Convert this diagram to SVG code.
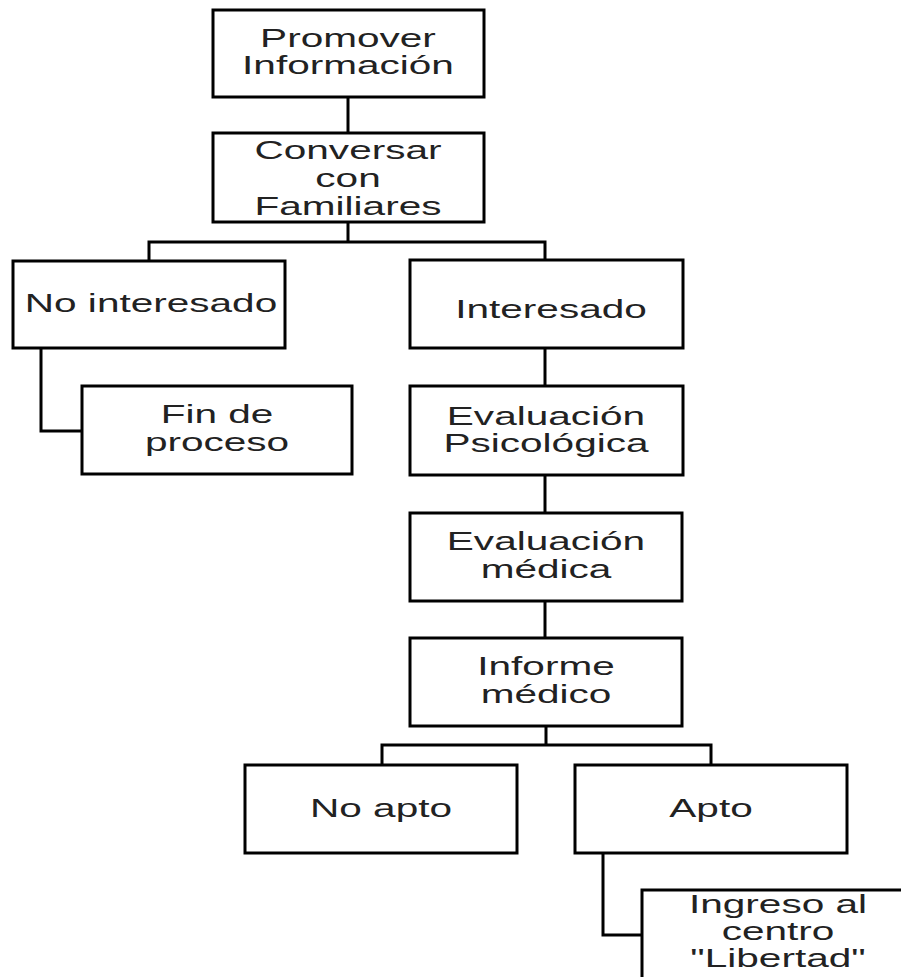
<svg xmlns="http://www.w3.org/2000/svg" width="901" height="977" viewBox="0 0 901 977">
<style>
.box{fill:#fff;stroke:#000;stroke-width:3}
.ln{fill:none;stroke:#000;stroke-width:3}
.t{font-family:"Liberation Sans",Arial,sans-serif;font-size:26.5px;fill:#222;text-anchor:middle}
</style>
<rect width="901" height="977" fill="#fff"/>
<g id="connectors">
<path class="ln" d="M348,97V133"/>
<path class="ln" d="M348,222V242M149,261V242H545V260"/>
<path class="ln" d="M41,348V431H82"/>
<path class="ln" d="M545,348V386"/>
<path class="ln" d="M545,475V513"/>
<path class="ln" d="M545,601V638"/>
<path class="ln" d="M546,726V745M382,765V745H711V765"/>
<path class="ln" d="M603,853V935H642"/>
</g>
<g id="promover">
<rect class="box" x="213" y="10" width="271" height="87"/>
<text class="t" transform="translate(348,47) scale(1.53,1)"><tspan x="0">Promover</tspan><tspan x="0" dy="27">Información</tspan></text>
</g>
<g id="conversar">
<rect class="box" x="213" y="133" width="271" height="89"/>
<text class="t" transform="translate(348,159) scale(1.53,1)"><tspan x="0">Conversar</tspan><tspan x="0" dy="28">con</tspan><tspan x="0" dy="28">Familiares</tspan></text>
</g>
<g id="no-interesado">
<rect class="box" x="13" y="261" width="272" height="87"/>
<text class="t" transform="translate(151,312) scale(1.53,1)">No interesado</text>
</g>
<g id="fin">
<rect class="box" x="82" y="386" width="270" height="88"/>
<text class="t" transform="translate(217,423) scale(1.53,1)"><tspan x="0">Fin de</tspan><tspan x="0" dy="28">proceso</tspan></text>
</g>
<g id="interesado">
<rect class="box" x="410" y="260" width="273" height="88"/>
<text class="t" transform="translate(551,318) scale(1.53,1)">Interesado</text>
</g>
<g id="eval-psico">
<rect class="box" x="410" y="386" width="273" height="89"/>
<text class="t" transform="translate(546,425) scale(1.53,1)"><tspan x="0">Evaluación</tspan><tspan x="0" dy="27">Psicológica</tspan></text>
</g>
<g id="eval-medica">
<rect class="box" x="410" y="513" width="272" height="88"/>
<text class="t" transform="translate(546,550) scale(1.53,1)"><tspan x="0">Evaluación</tspan><tspan x="0" dy="28">médica</tspan></text>
</g>
<g id="informe">
<rect class="box" x="410" y="638" width="272" height="88"/>
<text class="t" transform="translate(546,675) scale(1.53,1)"><tspan x="0">Informe</tspan><tspan x="0" dy="28">médico</tspan></text>
</g>
<g id="no-apto">
<rect class="box" x="245" y="765" width="272" height="88"/>
<text class="t" transform="translate(381,817) scale(1.53,1)">No apto</text>
</g>
<g id="apto">
<rect class="box" x="575" y="765" width="272" height="88"/>
<text class="t" transform="translate(711,817) scale(1.53,1)">Apto</text>
</g>
<g id="ingreso">
<rect class="box" x="642" y="890" width="272" height="92"/>
<text class="t" transform="translate(778,913) scale(1.53,1)"><tspan x="0">Ingreso al</tspan><tspan x="0" dy="27">centro</tspan><tspan x="0" dy="27">"Libertad"</tspan></text>
</g>
</svg>
